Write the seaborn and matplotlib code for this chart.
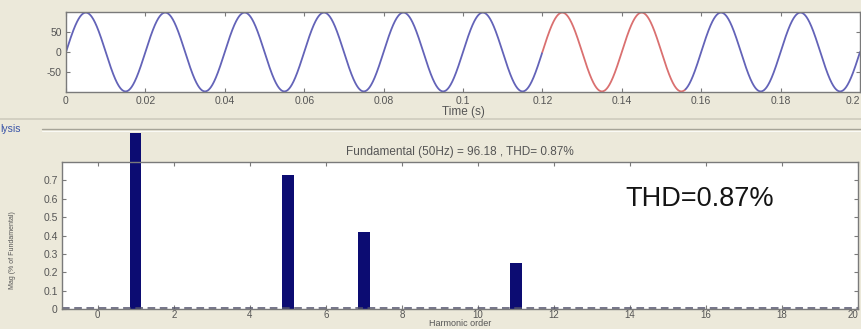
import numpy as np
import pandas as pd
import matplotlib
matplotlib.use("Agg")
import matplotlib.pyplot as plt
from matplotlib.lines import Line2D
import seaborn as sns

# ---------------- data ----------------
FUNDAMENTAL_AMPLITUDE = 96.18      # peak value of the 50 Hz signal
FREQUENCY_HZ = 50
TIME_START, TIME_END = 0.0, 0.2
WINDOW_START, WINDOW_END = 0.12, 0.156   # red (FFT window) segment

harmonic_order = list(range(0, 20))
magnitude_pct = [0, 0.96, 0, 0, 0, 0.73, 0, 0.42, 0, 0, 0, 0.25,
                 0, 0, 0, 0, 0, 0, 0, 0]

top_xticks = [0, 0.02, 0.04, 0.06, 0.08, 0.1, 0.12, 0.14, 0.16, 0.18, 0.2]
top_xticklabels = ["0", "0.02", "0.04", "0.06", "0.08", "0.1", "0.12", "0.14", "0.16", "0.18", "0.2"]
top_yticks = [-50, 0, 50]
top_yticklabels = ["-50", "0", "50"]
bot_xticks = list(range(0, 21, 2))
bot_yticks = [0, 0.1, 0.2, 0.3, 0.4, 0.5, 0.6, 0.7]
bot_yticklabels = ["0", "0.1", "0.2", "0.3", "0.4", "0.5", "0.6", "0.7"]

title_text = "Fundamental (50Hz) = 96.18 , THD= 0.87%"
thd_text = "THD=0.87%"

# ---------------- style ----------------
sns.set_style("ticks")
plt.rcParams["font.family"] = ["Liberation Sans", "DejaVu Sans"]
plt.rcParams["axes.unicode_minus"] = False
BG = "#ECE9DA"
SPINE = "#7A7A7A"
TXT = "#555555"

fig = plt.figure(figsize=(8.62, 3.29), dpi=100, facecolor=BG)

# ---------------- top: time signal ----------------
t = np.linspace(TIME_START, TIME_END, 4001)
sig = FUNDAMENTAL_AMPLITUDE * np.sin(2 * np.pi * FREQUENCY_HZ * t)
seg = np.where(t < WINDOW_START, "a", np.where(t <= WINDOW_END, "b", "c"))
df = pd.DataFrame({"time": t, "value": sig, "seg": seg})

ax1 = fig.add_axes([66 / 862, 1 - 92 / 329, 794 / 862, 80 / 329])
ax1.set_facecolor("white")
sns.lineplot(data=df, x="time", y="value", hue="seg",
             palette={"a": "#6363B8", "b": "#DA7070", "c": "#6363B8"},
             legend=False, linewidth=1.3, sort=False, ax=ax1)
ax1.set_xlim(0, 0.2)
ax1.set_ylim(-97.6, 97.6)
ax1.set_xticks(top_xticks)
ax1.set_xticklabels(top_xticklabels)
ax1.get_xticklabels()[-1].set_ha("right")
ax1.set_yticks(top_yticks)
ax1.set_yticklabels(top_yticklabels)
ax1.set_xlabel("Time (s)", fontsize=8.5, color=TXT, labelpad=0)
ax1.set_ylabel("")
ax1.tick_params(direction="in", length=3, width=0.8, colors=SPINE,
                labelcolor=TXT, labelsize=7.5, top=True, right=True, pad=3)
for s in ax1.spines.values():
    s.set_color(SPINE)
    s.set_linewidth(1.0)

# ---------------- bottom: harmonic spectrum ----------------
ax2 = fig.add_axes([62 / 862, 1 - 309 / 329, 796 / 862, 147 / 329])
ax2.set_facecolor("white")
sns.barplot(x=harmonic_order, y=magnitude_pct, native_scale=True, width=0.3,
            color="#0C0C72", saturation=1, linewidth=0, ax=ax2)
for p in ax2.patches:
    p.set_clip_on(False)
# dashed baseline (tiny harmonic magnitudes)
ax2.axhline(0.008, color="#50506A", linewidth=1.1, linestyle=(0, (5, 3)), zorder=1)
ax2.set_xlim(-0.94, 19.9)
ax2.set_ylim(0, 0.8)
ax2.set_xticks(bot_xticks)
ax2.set_xticklabels([str(v) for v in bot_xticks])
ax2.get_xticklabels()[-1].set_ha("right")
ax2.set_yticks(bot_yticks)
ax2.set_yticklabels(bot_yticklabels)
ax2.tick_params(direction="in", length=3, width=0.8, colors=SPINE,
                labelcolor=TXT, labelsize=7, top=True, right=True, pad=1)
ax2.tick_params(axis="y", pad=3, labelsize=7.5)
for s in ax2.spines.values():
    s.set_color(SPINE)
    s.set_linewidth(1.0)
ax2.set_xlabel("Harmonic order", fontsize=6.5, color=TXT, va="bottom")
ax2.xaxis.set_label_coords(0.5, -(329 - 309 - 0.5) / 147)
ax2.set_ylabel("Mag (% of Fundamental)", fontsize=5, color=TXT)
ax2.yaxis.set_label_coords(-0.058, 0.40)
ax2.set_title(title_text, fontsize=8.5, color=TXT, pad=5)
ax2.text(13.87, 0.598, thd_text, fontsize=19.5, color="#141414",
         va="center", ha="left")

# ---------------- panel decorations ----------------
fig.add_artist(Line2D([0, 1], [1 - 119 / 329] * 2, color="#CFCCBE", linewidth=1.2,
                      transform=fig.transFigure))
fig.add_artist(Line2D([42 / 862, 1], [1 - 129 / 329] * 2, color="#A6A498", linewidth=1.0,
                      transform=fig.transFigure))
fig.add_artist(Line2D([42 / 862, 1], [1 - 130.5 / 329] * 2, color="#FAFAF5", linewidth=0.8,
                      transform=fig.transFigure))
fig.text(0.0, 1 - 128.5 / 329, "lysis", fontsize=7.5, color="#3A55A8",
         ha="left", va="center")

fig.savefig("out.png", dpi=100, facecolor=BG)
